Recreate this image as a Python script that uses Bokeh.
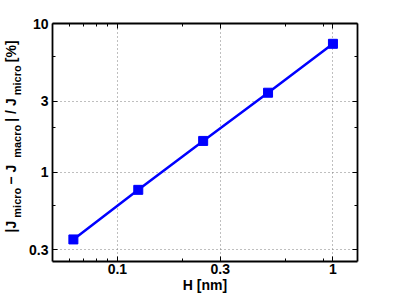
from bokeh.plotting import figure
from bokeh.models import LogAxis, FixedTicker, Label, Range1d
from bokeh.layouts import row
from bokeh.embed import file_html
from bokeh.resources import INLINE

# data
H_nm = [0.0625, 0.125, 0.25, 0.5, 1.0]
rel_err = [0.352, 0.759, 1.62, 3.42, 7.3]
x_ticks = [0.1, 0.3, 1]
x_minor = [0.06, 0.07, 0.08, 0.09, 0.2, 0.6, 0.9]
y_ticks = [0.3, 1, 3, 10]
y_minor = [0.6, 2, 6]

FONT = "Liberation Sans"
BLUE = "#0000ff"
X0, X1, Y0, Y1 = 0.05, 1.3, 0.25, 10
H = 296
LW = 25  # width of the strip holding the y-axis title

p = figure(width=388 - LW, height=H, x_axis_type="log", y_axis_type="log",
           x_range=Range1d(X0, X1), y_range=Range1d(Y0, Y1),
           output_backend="svg", toolbar_location=None,
           min_border_left=52 - LW, min_border_right=31, min_border_top=23,
           min_border_bottom=35)
p.outline_line_color = None
p.background_fill_color = "white"
p.border_fill_color = "white"

def style(ax, labels=True):
    ax.axis_line_width = 1.8
    ax.axis_line_color = "black"
    ax.major_tick_in = 5
    ax.major_tick_out = 0
    ax.minor_tick_in = 3
    ax.minor_tick_out = 0
    ax.major_tick_line_color = "black"
    ax.minor_tick_line_color = "black"
    if labels:
        ax.major_label_text_font = FONT
        ax.major_label_text_font_style = "bold"
        ax.major_label_text_font_size = "14px"
        ax.major_label_text_color = "black"
        ax.major_label_standoff = 3
    else:
        ax.major_label_text_font_size = "0px"
        ax.major_label_text_alpha = 0
        ax.major_label_standoff = 0

xa = p.xaxis[0]
ya = p.yaxis[0]
xa.ticker = FixedTicker(ticks=x_ticks, minor_ticks=x_minor)
ya.ticker = FixedTicker(ticks=y_ticks, minor_ticks=y_minor)
xa.major_label_overrides = {0.1: "0.1", 0.3: "0.3", 1: "1"}
ya.major_label_overrides = {0.3: "0.3", 1: "1", 3: "3", 10: "10"}
style(xa)
style(ya)
xa.major_label_standoff = 2
ya.major_label_standoff = 4
xa.axis_label = "H [nm]"
xa.axis_label_text_font = FONT
xa.axis_label_text_font_style = "bold"
xa.axis_label_text_font_size = "14px"
xa.axis_label_text_color = "black"
xa.axis_label_standoff = 0

top = LogAxis(ticker=FixedTicker(ticks=x_ticks, minor_ticks=x_minor))
right = LogAxis(ticker=FixedTicker(ticks=y_ticks, minor_ticks=y_minor))
style(top, labels=False)
style(right, labels=False)
p.add_layout(top, "above")
p.add_layout(right, "right")

p.xgrid.grid_line_color = "#7f7f7f"
p.ygrid.grid_line_color = "#7f7f7f"
p.xgrid.grid_line_dash = "1 3"
p.ygrid.grid_line_dash = "1 3"
p.xgrid.grid_line_width = 1
p.ygrid.grid_line_width = 1

p.line(H_nm, rel_err, line_color=BLUE, line_width=2.5)
p.scatter(H_nm, rel_err, marker="square", size=9, fill_color=BLUE, line_color=BLUE)

# strip on the left holding the rotated y-axis title; pieces are placed by pixel
# offsets from the strip's centre so the layout does not depend on frame size
t = figure(width=LW, height=H, x_range=Range1d(0, LW), y_range=Range1d(0, H),
           x_axis_location=None, y_axis_location=None,
           output_backend="svg", toolbar_location=None,
           min_border_left=0, min_border_right=0, min_border_top=0, min_border_bottom=0)
t.grid.visible = False
t.outline_line_color = None
t.background_fill_color = "white"
t.border_fill_color = "white"

W = {"|": 280, "J": 556, " ": 278, "\u2212": 584, "/": 278, "[": 333, "%": 889,
     "]": 333, "m": 889, "i": 278, "c": 556, "r": 389, "o": 611, "a": 556}
pieces = [("|J", False), ("micro", True), (" \u2212 J", False), ("macro", True),
          ("| / J", False), ("micro", True), (" [%]", False)]
MAIN, SUB = 14, 11
total = sum(sum(W[c] for c in s) / 1000 * (SUB if sub else MAIN) for s, sub in pieces)
y_start, y_end = H - 238, H - 42
gap = (y_end - y_start - total) / (len(pieces) - 1)
pos = y_start
for txt, sub in pieces:
    fs = SUB if sub else MAIN
    xpix = 16 if sub else 10
    t.add_layout(Label(x=LW / 2, y=H / 2, x_offset=xpix - LW / 2, y_offset=pos - H / 2,
                       text=txt, angle=1.5707963,
                       text_font=FONT, text_font_style="bold",
                       text_font_size=f"{fs}px", text_color="black",
                       text_align="left", text_baseline="alphabetic"))
    pos += sum(W[c] for c in txt) / 1000 * fs + gap

open("out.html", "w").write(file_html(row(t, p), INLINE))
